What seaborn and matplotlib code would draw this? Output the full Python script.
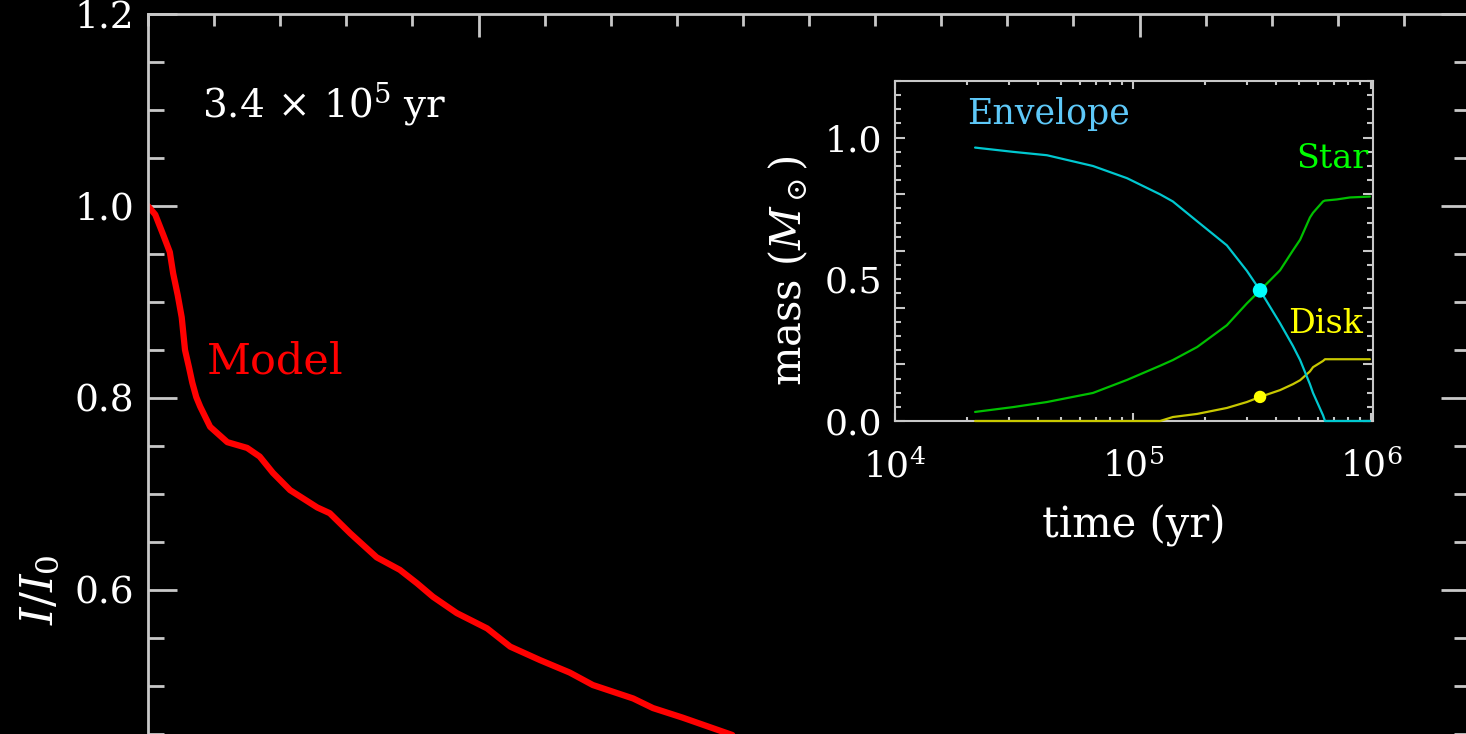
import matplotlib

matplotlib.use("Agg")
import matplotlib.pyplot as plt
import matplotlib.ticker as mticker
import pandas as pd
import seaborn as sns

# main panel: normalised intensity of the model (time axis in plotted units)
MODEL_TIME = [0.0, 0.011, 0.023, 0.033, 0.038, 0.045, 0.051, 0.056, 0.062, 0.067,
              0.073, 0.079, 0.094, 0.120, 0.150, 0.169, 0.189, 0.215, 0.256, 0.275,
              0.306, 0.346, 0.381, 0.407, 0.431, 0.467, 0.513, 0.548, 0.593, 0.638,
              0.673, 0.734, 0.764, 0.809, 0.888]
MODEL_INTENSITY = [1.000, 0.991, 0.970, 0.952, 0.930, 0.907, 0.884, 0.850, 0.832, 0.816,
                   0.801, 0.791, 0.770, 0.754, 0.748, 0.739, 0.722, 0.704, 0.686, 0.680,
                   0.659, 0.634, 0.621, 0.607, 0.593, 0.576, 0.560, 0.541, 0.527, 0.514,
                   0.501, 0.487, 0.477, 0.467, 0.448]

# inset: mass budget in solar masses vs time (yr)
MASS_TIME = [2.17e4, 3.13e4, 4.35e4, 6.79e4, 9.44e4, 1.30e5, 1.47e5, 1.86e5, 2.48e5,
             3.01e5, 3.42e5, 4.15e5, 4.70e5, 5.04e5, 5.54e5, 5.71e5, 6.29e5, 6.41e5,
             7.19e5, 8.16e5, 9.90e5]
ENVELOPE = [0.965, 0.950, 0.938, 0.900, 0.857, 0.800, 0.775, 0.705, 0.620,
            0.530, 0.461, 0.345, 0.265, 0.215, 0.130, 0.099, 0.020, 0.0,
            0.0, 0.0, 0.0]
STAR = [0.032, 0.049, 0.067, 0.099, 0.145, 0.195, 0.215, 0.261, 0.338,
        0.415, 0.461, 0.532, 0.602, 0.640, 0.718, 0.735, 0.775, 0.778,
        0.782, 0.789, 0.792]
DISK = [0.0, 0.0, 0.0, 0.0, 0.0, 0.0, 0.014, 0.025, 0.046,
        0.067, 0.085, 0.109, 0.130, 0.144, 0.175, 0.190, 0.212, 0.218,
        0.218, 0.218, 0.218]

NOW_TIME = 3.42e5
NOW_ENVELOPE = 0.461
NOW_DISK = 0.085

W, H = 1466, 734
FG = "white"
SPINE = "#c8c8c8"

sns.set_theme(style="ticks")
plt.rcParams.update({
    "font.family": ["DejaVu Serif"],
    "mathtext.fontset": "dejavuserif",
    "figure.facecolor": "black",
    "axes.facecolor": "black",
    "axes.edgecolor": SPINE,
    "text.color": FG,
    "axes.labelcolor": FG,
    "xtick.color": SPINE,
    "ytick.color": SPINE,
    "xtick.labelcolor": FG,
    "ytick.labelcolor": FG,
})

fig = plt.figure(figsize=(W / 100, H / 100), dpi=100)

# main axes run past the bottom of the frame, as in the original
ax = fig.add_axes([148 / W, 1 - 1166 / H, 1322 / W, 1152 / H])
sns.lineplot(x=MODEL_TIME, y=MODEL_INTENSITY, ax=ax, color="#ff0000", linewidth=4.5)
ax.set_xlim(0, 2)
ax.set_ylim(0, 1.2)
ax.xaxis.set_major_locator(mticker.FixedLocator([0.5, 1.5]))
ax.xaxis.set_minor_locator(mticker.MultipleLocator(0.1))
ax.yaxis.set_major_locator(mticker.MultipleLocator(0.2))
ax.yaxis.set_minor_locator(mticker.MultipleLocator(0.05))
# only the labels that fall inside the visible frame
ax.yaxis.set_major_formatter(
    mticker.FuncFormatter(lambda v, _: f"{v:.1f}" if v > 0.5 else ""))
ax.tick_params(axis="both", which="both", direction="in", top=True, right=True,
               width=2, labelsize=27, labelbottom=False)
ax.tick_params(axis="y", which="major", length=21, pad=10)
ax.tick_params(axis="y", which="minor", length=11.5)
ax.tick_params(axis="x", which="major", length=16.5)
ax.tick_params(axis="x", which="minor", length=8.5)
for s in ax.spines.values():
    s.set_linewidth(2)
ax.set_xlabel("")
ax.set_ylabel(r"$I/I_0$", fontsize=32)
ax.yaxis.set_label_coords(-0.065, 0.5)

ax.text(0.041, 0.9106, r"3.4$\,\times\,$10$^5$ yr", transform=ax.transAxes,
        fontsize=28, color=FG, va="baseline")
ax.text(0.089, 0.826, "Model", color="#ff0000", fontsize=31, va="baseline")

# inset with the mass budget
ins = fig.add_axes([895 / W, 1 - 421 / H, 478 / W, 340 / H])
mass = pd.DataFrame({"time": MASS_TIME, "Envelope": ENVELOPE, "Star": STAR, "Disk": DISK})
line_colors = {"Envelope": "#00c8d0", "Star": "#00c000", "Disk": "#c8c800"}
for comp in ["Disk", "Star", "Envelope"]:
    sns.lineplot(data=mass, x="time", y=comp, ax=ins, color=line_colors[comp],
                 linewidth=1.6, clip_on=False, zorder=3)
sns.scatterplot(x=[NOW_TIME], y=[NOW_ENVELOPE], ax=ins, color="#00ffff", s=110,
                edgecolor="none", zorder=5, clip_on=False)
sns.scatterplot(x=[NOW_TIME], y=[NOW_DISK], ax=ins, color="#ffff00", s=80,
                edgecolor="none", zorder=5, clip_on=False)

ins.set_xscale("log")
ins.set_xlim(1e4, 1.02e6)
ins.set_ylim(0, 1.2)
ins.xaxis.set_major_locator(mticker.LogLocator(base=10))
ins.xaxis.set_minor_locator(mticker.LogLocator(base=10, subs=range(2, 10)))
ins.xaxis.set_minor_formatter(mticker.NullFormatter())
ins.xaxis.set_major_formatter(mticker.LogFormatterMathtext())
ins.set_yticks([0.0, 0.2, 0.4, 0.5, 0.6, 0.8, 1.0])
ins.set_yticklabels(["0.0", "", "", "0.5", "", "", "1.0"])
ins.yaxis.set_minor_locator(mticker.MultipleLocator(0.05))
ins.tick_params(axis="both", which="both", direction="in", top=True, right=True,
                width=1.5, labelsize=26)
ins.tick_params(axis="y", which="major", length=7.5, pad=9)
ins.tick_params(axis="y", which="minor", length=4.3)
ins.tick_params(axis="x", which="major", length=5.8, pad=20)
ins.tick_params(axis="x", which="minor", length=3)
ins.yaxis.get_major_ticks()[3].tick1line.set_markersize(4.3)
ins.yaxis.get_major_ticks()[3].tick2line.set_markersize(4.3)
for s in ins.spines.values():
    s.set_linewidth(1.5)

ins.set_xlabel("time (yr)", fontsize=30)
ins.xaxis.set_label_coords(0.5, -0.245)
ins.set_ylabel(r"mass ($M_\odot$)", fontsize=30)
ins.yaxis.set_label_coords(-0.178, 0.441)

ins.text(0.151, 0.874, "Envelope", transform=ins.transAxes, color="#5ec8f8",
         fontsize=25, va="baseline")
ins.text(0.990, 0.744, "Star", transform=ins.transAxes, color="#00ff00",
         fontsize=24, va="baseline", ha="right")
ins.text(0.979, 0.259, "Disk", transform=ins.transAxes, color="#ffff00",
         fontsize=24, va="baseline", ha="right")

fig.savefig("out.png", dpi=100, facecolor="black")
